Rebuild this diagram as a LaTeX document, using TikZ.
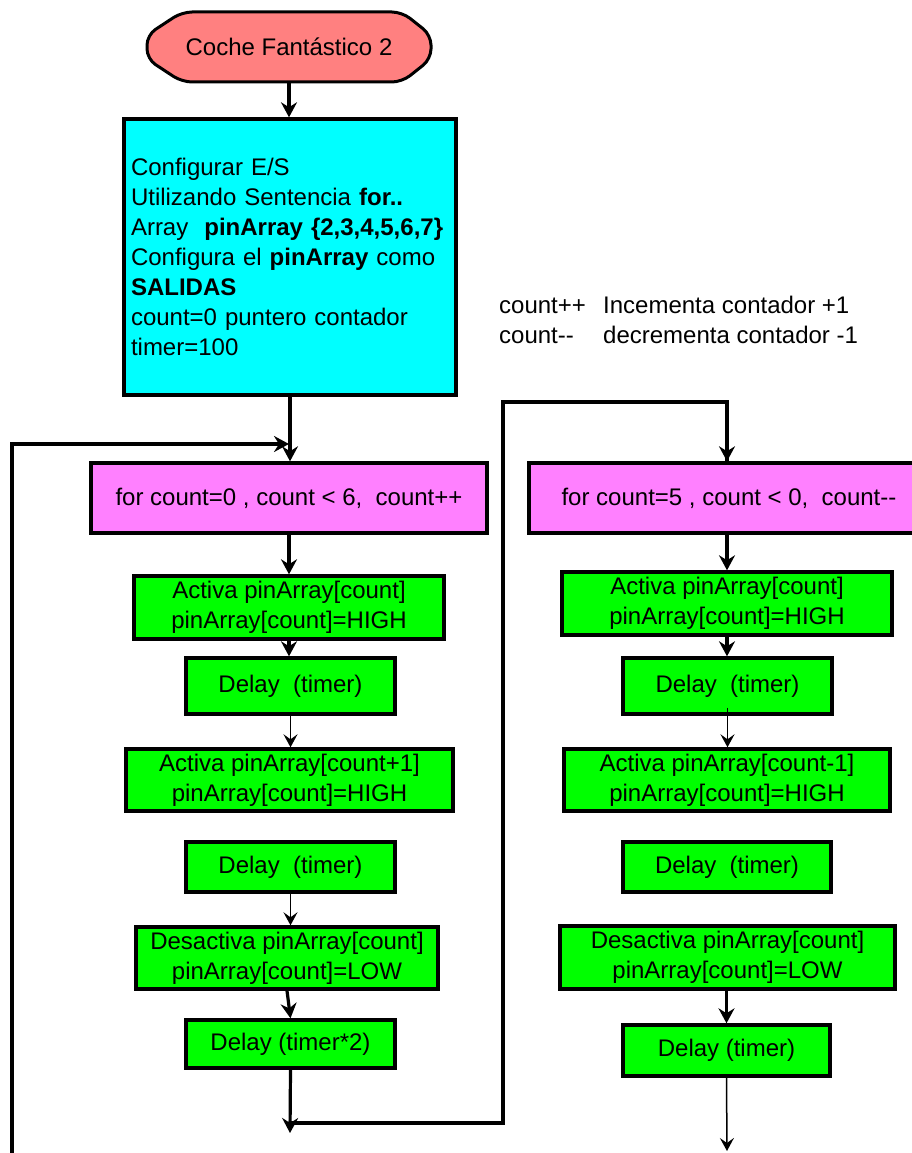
\documentclass[tikz,border=0pt]{standalone}
\usepackage{fontspec}
\setmainfont{Liberation Sans}
\usetikzlibrary{arrows.meta}
\definecolor{salmonc}{HTML}{FF8080}
\definecolor{cyanc}{HTML}{00FFFF}
\definecolor{pinkc}{HTML}{FF80FF}
\definecolor{greenc}{HTML}{00FF00}
\begin{document}
\begin{tikzpicture}[x=1pt,y=-1pt,
  font=\fontsize{24}{30}\selectfont,
  box/.style={draw=black, line width=3.4pt, rectangle, inner sep=0pt, align=center},
  gbox/.style={box, fill=greenc},
  pbox/.style={box, fill=pinkc, minimum height=70pt},
  tarrow/.style={line width=3.2pt, -{Stealth[length=15pt,width=16pt,inset=5pt]}},
  narrow/.style={line width=1.5pt, -{Stealth[length=13pt,width=14pt,inset=5pt]}},
  tline/.style={line width=3.2pt},
  note/.style={anchor=base west, inner sep=0pt}
]
\useasboundingbox (0,0) rectangle (912,1153);

% terminal
\filldraw[fill=salmonc, draw=black, line width=3pt, rounded corners=10pt]
  (182,12) -- (402,12) -- (431,35) -- (431,59) -- (402,82) -- (182,82) -- (147,59) -- (147,35) -- cycle;
\node[minimum width=284pt, minimum height=70pt, inner sep=0pt] (term) at (289,47) {Coche Fantástico 2};

% configuration box
\node[box, fill=cyanc, minimum height=276pt, text width=318pt, inner xsep=7pt, align=left] (cfg) at (290,257)
{Configurar E/S\\
Utilizando Sentencia \textbf{for..}\\
Array\ \ \textbf{pinArray \{2,3,4,5,6,7\}}\\
Configura el \textbf{pinArray} como\\
\textbf{SALIDAS}\\
count=0 puntero contador\\
timer=100};

% notes
\node[note] (n1) at (499,313) {count++};
\node[note] (n2) at (603,313) {Incementa contador +1};
\node[note] (n3) at (499,343) {count-{}-};
\node[note] (n4) at (603,343) {decrementa contador -1};

% left column
\node[pbox, minimum width=396pt] (p1) at (289,498) {for count=0 , count < 6,\ \ count++};
\node[gbox, minimum width=310pt, minimum height=63pt] (g1) at (289,607.5) {Activa pinArray[count]\\pinArray[count]=HIGH};
\node[gbox, minimum width=209pt, minimum height=56pt] (d1) at (290.5,686) {Delay\ \ (timer)};
\node[gbox, minimum width=327pt, minimum height=62pt] (g2) at (289.5,780) {Activa pinArray[count+1]\\pinArray[count]=HIGH};
\node[gbox, minimum width=209pt, minimum height=50pt] (d2) at (290.5,867) {Delay\ \ (timer)};
\node[gbox, minimum width=302pt, minimum height=62pt] (g3) at (287,958) {Desactiva pinArray[count]\\pinArray[count]=LOW};
\node[gbox, minimum width=209pt, minimum height=48pt] (d3) at (290.5,1044) {Delay (timer*2)};

% right column
\node[pbox, minimum width=400pt] (p2) at (729,498) {for count=5 , count < 0,\ \ count-{}-};
\node[gbox, minimum width=330pt, minimum height=63pt] (g4) at (727,603.5) {Activa pinArray[count]\\pinArray[count]=HIGH};
\node[gbox, minimum width=209pt, minimum height=56pt] (d4) at (727.5,686) {Delay\ \ (timer)};
\node[gbox, minimum width=326pt, minimum height=62pt] (g5) at (727,780) {Activa pinArray[count-1]\\pinArray[count]=HIGH};
\node[gbox, minimum width=208pt, minimum height=50pt] (d5) at (727,867) {Delay\ \ (timer)};
\node[gbox, minimum width=335pt, minimum height=63pt] (g6) at (727.5,957.5) {Desactiva pinArray[count]\\pinArray[count]=LOW};
\node[gbox, minimum width=207pt, minimum height=51pt] (d6) at (726.5,1050.5) {Delay (timer)};

% helper coordinates
\coordinate (lb) at (12,1160);
\coordinate (lj) at (289,444);
\coordinate (e1) at (290,1133);
\coordinate (j1) at (290,1123);
\coordinate (c1) at (503,1123);
\coordinate (c2) at (503,402);
\coordinate (e2) at (727,1151);

% connectors left
\draw[tarrow] (term.south) -- (term.south |- cfg.north);
\draw[tarrow] (cfg.south) -- (cfg.south |- p1.north);
\draw[tarrow] (lb) |- (lj);
\draw[tarrow] (p1.south) -- (p1.south |- g1.north);
\draw[tarrow] (g1.south) -- (g1.south |- d1.north);
\draw[narrow] (d1.south) -- (d1.south |- g2.north);
\draw[narrow] (d2.south) -- (d2.south |- g3.north);
\draw[tarrow] (g3.south) -- (d3.north);
\draw[tarrow] (d3.south) -- (e1);
\draw[tline, line join=miter] (j1) -- (c1) -- (c2) -| ([xshift=-2pt]p2.north);
\draw[tarrow] ([xshift=-2pt]p2.north |- c2) -- ([xshift=-2pt]p2.north);

% connectors right
\draw[tarrow] (p2.south -| g4.north) -- (g4.north);
\draw[tarrow] (g4.south) -- (g4.south |- d4.north);
\draw[narrow] ([yshift=8pt]d4.south) -- (d4.south |- g5.north);
\draw[tarrow] (g6.south -| d6.north) -- (d6.north);
\draw[narrow] (d6.south) -- (e2);
\end{tikzpicture}
\end{document}
